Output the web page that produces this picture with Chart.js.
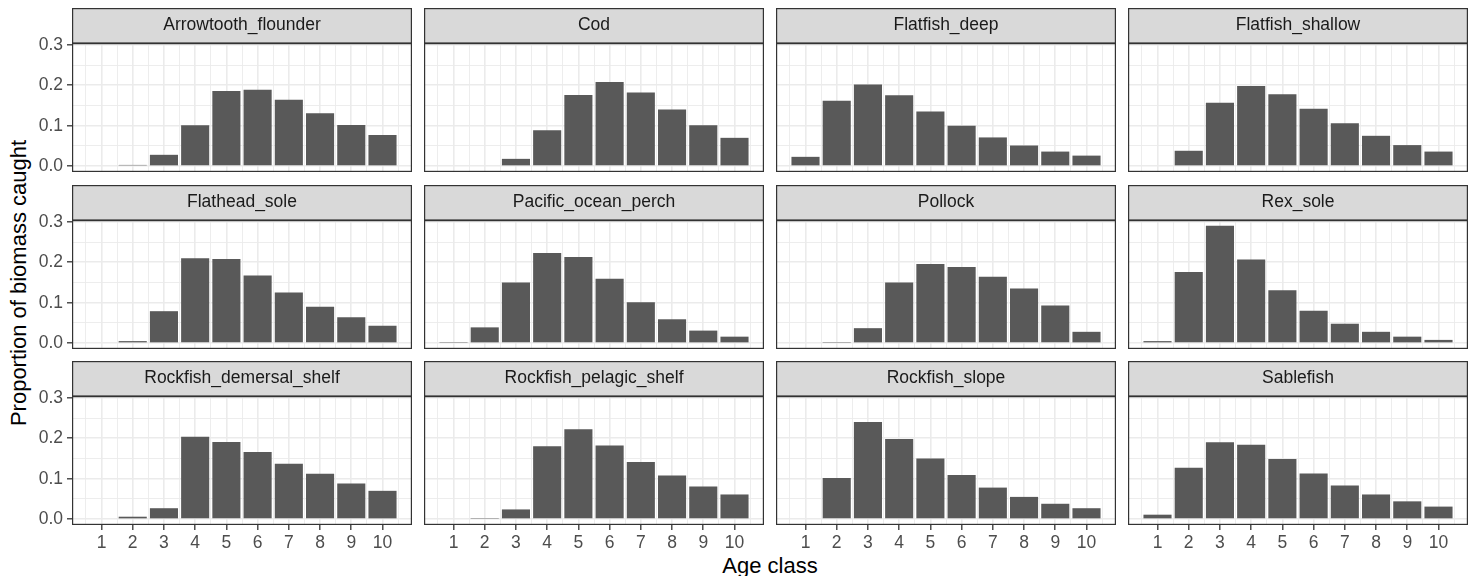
<!DOCTYPE html>
<html>
<head>
<meta charset="utf-8">
<script src="https://cdn.jsdelivr.net/npm/chart.js@4"></script>
<style>
  body { margin: 0; background: #fff; width: 1472px; height: 576px; overflow: hidden; position: relative;
         font-family: "Liberation Sans", Arial, sans-serif; }
  .panel { position: absolute; }
  .ytitle { position: absolute; left: 19px; top: 283px; transform: translate(-50%, -50%) rotate(-90deg);
            font-size: 22px; white-space: nowrap; color: #000; }
  .xtitle { position: absolute; left: 770px; top: 566px; transform: translate(-50%, -50%);
            font-size: 22px; white-space: nowrap; color: #000; }
</style>
</head>
<body>
<div class="ytitle">Proportion of biomass caught</div>
<div class="xtitle">Age class</div>
<script>
// age classes and y tick labels
const ageClasses = [1, 2, 3, 4, 5, 6, 7, 8, 9, 10];
const yTicks = [0, 0.1, 0.2, 0.3];

const species = [
  'Arrowtooth_flounder', 'Cod', 'Flatfish_deep', 'Flatfish_shallow',
  'Flathead_sole', 'Pacific_ocean_perch', 'Pollock', 'Rex_sole',
  'Rockfish_demersal_shelf', 'Rockfish_pelagic_shelf', 'Rockfish_slope', 'Sablefish'
];

// proportion of biomass caught per age class
const arrowtooth = [0, 0.003, 0.028, 0.101, 0.186, 0.189, 0.164, 0.131, 0.102, 0.077];
const cod = [0, 0.002, 0.018, 0.089, 0.176, 0.208, 0.182, 0.140, 0.101, 0.070];
const flatDeep = [0.023, 0.162, 0.202, 0.175, 0.135, 0.100, 0.071, 0.051, 0.036, 0.026];
const flatShallow = [0, 0.038, 0.157, 0.198, 0.178, 0.142, 0.106, 0.075, 0.052, 0.036];
const flathead = [0, 0.005, 0.079, 0.210, 0.208, 0.167, 0.125, 0.090, 0.064, 0.043];
const pop = [0.001, 0.039, 0.150, 0.223, 0.213, 0.159, 0.101, 0.059, 0.031, 0.016];
const pollock = [0, 0.001, 0.037, 0.150, 0.196, 0.188, 0.164, 0.135, 0.093, 0.028];
const rexSole = [0.005, 0.176, 0.290, 0.207, 0.131, 0.080, 0.048, 0.028, 0.016, 0.008];
const rockDemersal = [0, 0.006, 0.027, 0.204, 0.191, 0.166, 0.137, 0.112, 0.088, 0.070];
const rockPelagic = [0, 0.001, 0.024, 0.180, 0.222, 0.182, 0.141, 0.108, 0.081, 0.061];
const rockSlope = [0, 0.102, 0.240, 0.198, 0.150, 0.109, 0.078, 0.055, 0.038, 0.027];
const sablefish = [0.011, 0.127, 0.190, 0.184, 0.149, 0.113, 0.083, 0.061, 0.044, 0.031];

const values = [arrowtooth, cod, flatDeep, flatShallow, flathead, pop, pollock, rexSole,
                rockDemersal, rockPelagic, rockSlope, sablefish];

// layout of the facets
const colLeft = [72, 424, 776, 1128];
const rowTop = [8, 185, 361];
const plotW = 340, plotH = 129, stripH = 35, yAxisW = 42, xAxisH = 30;

const fontFamily = '"Liberation Sans", Arial, sans-serif';
const gridGrey = '#EBEBEB';
const darkGrey = '#333333';

// x: continuous, bars 0.9 wide, 5% expansion
const xMin = 0.055, xMax = 10.945;
const yMin = -0.0145, yMax = 0.3045;

const xGridVals = [];
for (let v = 0.5; v <= 10.5; v += 0.5) xGridVals.push(v);
const yGridVals = [];
yTicks.forEach((t, i) => {
  yGridVals.push(t);
  if (i < yTicks.length - 1) yGridVals.push((t + yTicks[i + 1]) / 2);
});

const isMajorX = v => ageClasses.includes(v);
const isMajorY = v => yTicks.some(t => Math.abs(t - v) < 1e-9);

const facetFrame = {
  id: 'facetFrame',
  beforeDraw(chart) {
    const a = chart.chartArea, ctx = chart.ctx;
    ctx.save();
    ctx.fillStyle = '#D9D9D9';
    ctx.fillRect(a.left, a.top - stripH, a.right - a.left, stripH);
    ctx.restore();
  },
  afterDraw(chart) {
    const a = chart.chartArea, ctx = chart.ctx;
    ctx.save();
    ctx.strokeStyle = darkGrey;
    ctx.lineWidth = 1.2;
    ctx.strokeRect(a.left + 0.6, a.top - stripH + 0.6, a.right - a.left - 1.2, stripH);
    ctx.strokeRect(a.left + 0.6, a.top, a.right - a.left - 1.2, a.bottom - a.top - 0.6);
    ctx.restore();
  }
};

species.forEach((name, i) => {
  const row = Math.floor(i / 4), col = i % 4;
  const leftCol = col === 0, bottomRow = row === 2;

  const box = document.createElement('div');
  box.className = 'panel';
  const w = plotW + (leftCol ? yAxisW : 0);
  const h = stripH + plotH + (bottomRow ? xAxisH : 0);
  box.style.left = (colLeft[col] - (leftCol ? yAxisW : 0)) + 'px';
  box.style.top = rowTop[row] + 'px';
  box.style.width = w + 'px';
  box.style.height = h + 'px';
  const canvas = document.createElement('canvas');
  box.appendChild(canvas);
  document.body.appendChild(box);

  new Chart(canvas, {
    type: 'bar',
    data: {
      datasets: [{
        data: ageClasses.map((a, k) => ({ x: a, y: values[i][k] })),
        backgroundColor: '#595959',
        borderWidth: 0,
        inflateAmount: 0,
        barThickness: 'flex',
        categoryPercentage: 1,
        barPercentage: 0.9
      }]
    },
    options: {
      responsive: true,
      maintainAspectRatio: false,
      devicePixelRatio: 1,
      animation: false,
      events: [],
      layout: { padding: 0 },
      plugins: {
        legend: { display: false },
        tooltip: { enabled: false },
        title: {
          display: true,
          text: name,
          fullSize: false,
          color: '#1A1A1A',
          font: { family: fontFamily, size: 17.5, weight: 'normal', lineHeight: 1.2 },
          padding: { top: 7, bottom: 7 }
        }
      },
      scales: {
        x: {
          type: 'linear',
          min: xMin,
          max: xMax,
          offset: false,
          border: { display: false },
          afterBuildTicks: s => { s.ticks = xGridVals.map(v => ({ value: v })); },
          afterFit: s => { s.height = bottomRow ? xAxisH : 0; s.paddingLeft = 0; s.paddingRight = 0; },
          grid: {
            offset: false,
            color: gridGrey,
            lineWidth: c => (c.tick && isMajorX(c.tick.value)) ? 1.6 : 0.9,
            drawTicks: bottomRow,
            tickLength: 5,
            tickWidth: 1.3,
            tickColor: c => (c.tick && isMajorX(c.tick.value)) ? darkGrey : 'rgba(0,0,0,0)'
          },
          ticks: {
            display: bottomRow,
            autoSkip: false,
            maxRotation: 0,
            minRotation: 0,
            padding: 3,
            color: '#4D4D4D',
            font: { family: fontFamily, size: 17.5 },
            callback: v => isMajorX(v) ? String(v) : ''
          }
        },
        y: {
          type: 'linear',
          min: yMin,
          max: yMax,
          border: { display: false },
          afterBuildTicks: s => { s.ticks = yGridVals.map(v => ({ value: v })); },
          afterFit: s => { s.width = leftCol ? yAxisW : 0; s.paddingTop = 0; s.paddingBottom = 0; },
          grid: {
            color: gridGrey,
            lineWidth: c => (c.tick && isMajorY(c.tick.value)) ? 1.6 : 0.9,
            drawTicks: leftCol,
            tickLength: 5,
            tickWidth: 1.3,
            tickColor: c => (c.tick && isMajorY(c.tick.value)) ? darkGrey : 'rgba(0,0,0,0)'
          },
          ticks: {
            display: leftCol,
            autoSkip: false,
            padding: 4,
            color: '#4D4D4D',
            font: { family: fontFamily, size: 17.5 },
            callback: v => isMajorY(v) ? v.toFixed(1) : ''
          }
        }
      }
    },
    plugins: [facetFrame]
  });
});
</script>
</body>
</html>
